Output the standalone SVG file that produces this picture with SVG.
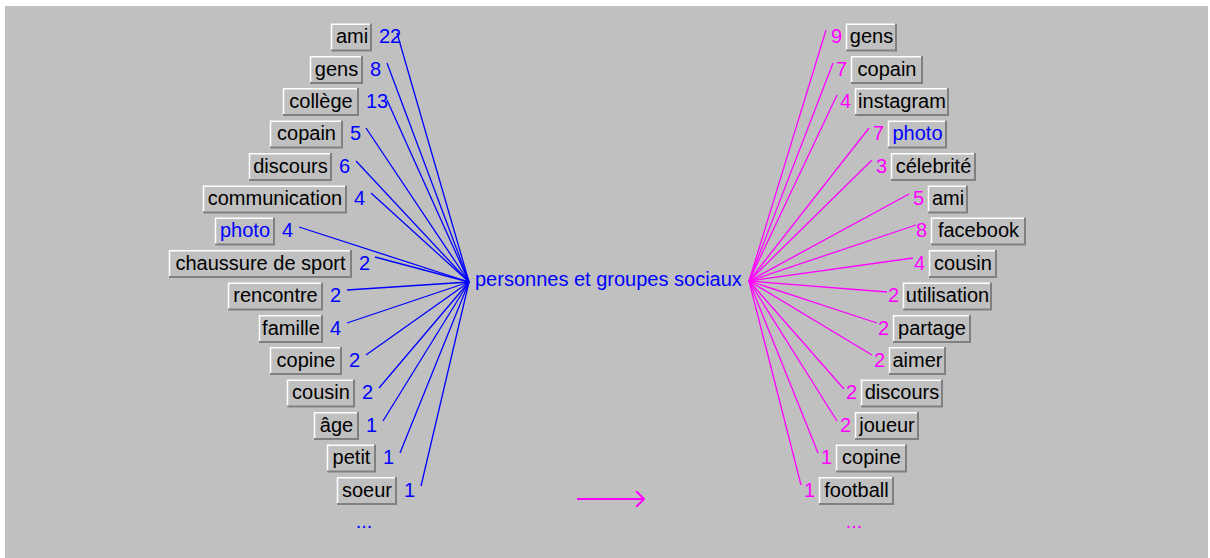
<svg xmlns="http://www.w3.org/2000/svg" width="1210" height="558" viewBox="0 0 1210 558">
<style>
.bg{fill:#c0c0c0}
.box{fill:#c0c0c0}
.hl{fill:none;stroke:#ffffff;stroke-width:1.5}
.sh{fill:none;stroke:#808080;stroke-width:2}
text{font-family:"Liberation Sans",Arial,sans-serif;font-size:20px}
.lbl{fill:#000;text-anchor:middle}
.lblb{fill:#0000ff;text-anchor:middle}
.nl{fill:#0000ff}
.nr{fill:#ff00ff;text-anchor:end}
.cl{stroke:#0000ff;stroke-width:1.3;fill:none}
.cr{stroke:#ff00ff;stroke-width:1.3;fill:none}
</style>
<defs>
<marker id="ah" viewBox="0 0 10 16" refX="9" refY="8" markerWidth="10" markerHeight="16" markerUnits="userSpaceOnUse" orient="auto">
<path d="M1 0 L9 8 L1 16" fill="none" stroke="#ff00ff" stroke-width="2"/>
</marker>
</defs>
<rect width="1210" height="558" fill="#ffffff"/>
<rect class="bg" x="5" y="6" width="1203" height="552"/>

<g id="connectors">
<path class="cl" d="M397 33 L469 282"/>
<path class="cl" d="M387 63 L469 282"/>
<path class="cl" d="M387 100 L469 282"/>
<path class="cl" d="M366 128 L469 282"/>
<path class="cl" d="M356 161 L469 282"/>
<path class="cl" d="M371 193 L469 282"/>
<path class="cl" d="M299 227 L469 282"/>
<path class="cl" d="M375 257 L469 282"/>
<path class="cl" d="M347 290 L469 282"/>
<path class="cl" d="M347 323 L469 282"/>
<path class="cl" d="M366 355 L469 282"/>
<path class="cl" d="M379 388 L469 282"/>
<path class="cl" d="M383 421 L469 282"/>
<path class="cl" d="M400 453 L469 282"/>
<path class="cl" d="M421 486 L469 282"/>
<path class="cr" d="M749 281 L826 30"/>
<path class="cr" d="M749 281 L833 63"/>
<path class="cr" d="M749 281 L837 95"/>
<path class="cr" d="M749 281 L869 128"/>
<path class="cr" d="M749 281 L872 160"/>
<path class="cr" d="M749 281 L909 194"/>
<path class="cr" d="M749 281 L916 225"/>
<path class="cr" d="M749 281 L913 258"/>
<path class="cr" d="M749 281 L887 292"/>
<path class="cr" d="M749 281 L877 323"/>
<path class="cr" d="M749 281 L872 355"/>
<path class="cr" d="M749 281 L844 389"/>
<path class="cr" d="M749 281 L837 421"/>
<path class="cr" d="M749 281 L818 453"/>
<path class="cr" d="M749 281 L801 485"/>
<path d="M577 499 L644 499" stroke="#ff00ff" stroke-width="2" fill="none" marker-end="url(#ah)"/>
</g>

<g id="center"><text x="475" y="286" fill="#0000ff">personnes et groupes sociaux</text></g>

<g id="l-ami"><rect class="box" x="331" y="23.5" width="41" height="28"/><path class="hl" d="M331.5 51.5V24.25H372"/><path class="sh" d="M331 50.5H371V23.5"/><text class="lbl" x="352" y="43">ami</text><text class="nl" x="379" y="43">22</text></g>
<g id="l-gens"><rect class="box" x="310" y="56" width="53" height="28"/><path class="hl" d="M310.5 84V56.75H363"/><path class="sh" d="M310 83H362V56"/><text class="lbl" x="336.5" y="75.5">gens</text><text class="nl" x="370" y="75.5">8</text></g>
<g id="l-college"><rect class="box" x="283" y="88" width="76" height="28"/><path class="hl" d="M283.5 116V88.75H359"/><path class="sh" d="M283 115H358V88"/><text class="lbl" x="321" y="107.5">collège</text><text class="nl" x="366" y="107.5">13</text></g>
<g id="l-copain"><rect class="box" x="270" y="120.5" width="73" height="28"/><path class="hl" d="M270.5 148.5V121.25H343"/><path class="sh" d="M270 147.5H342V120.5"/><text class="lbl" x="306.5" y="140">copain</text><text class="nl" x="350" y="140">5</text></g>
<g id="l-discours"><rect class="box" x="249" y="153" width="83" height="28"/><path class="hl" d="M249.5 181V153.75H332"/><path class="sh" d="M249 180H331V153"/><text class="lbl" x="290.5" y="172.5">discours</text><text class="nl" x="339" y="172.5">6</text></g>
<g id="l-communication"><rect class="box" x="203" y="185.5" width="144" height="28"/><path class="hl" d="M203.5 213.5V186.25H347"/><path class="sh" d="M203 212.5H346V185.5"/><text class="lbl" x="275" y="205">communication</text><text class="nl" x="354" y="205">4</text></g>
<g id="l-photo"><rect class="box" x="215" y="217.5" width="60" height="28"/><path class="hl" d="M215.5 245.5V218.25H275"/><path class="sh" d="M215 244.5H274V217.5"/><text class="lblb" x="245" y="237">photo</text><text class="nl" x="282" y="237">4</text></g>
<g id="l-chaussure"><rect class="box" x="169" y="250" width="183" height="28"/><path class="hl" d="M169.5 278V250.75H352"/><path class="sh" d="M169 277H351V250"/><text class="lbl" x="260.5" y="269.5">chaussure de sport</text><text class="nl" x="359" y="269.5">2</text></g>
<g id="l-rencontre"><rect class="box" x="228" y="282.5" width="95" height="28"/><path class="hl" d="M228.5 310.5V283.25H323"/><path class="sh" d="M228 309.5H322V282.5"/><text class="lbl" x="275.5" y="302">rencontre</text><text class="nl" x="330" y="302">2</text></g>
<g id="l-famille"><rect class="box" x="259" y="315" width="64" height="28"/><path class="hl" d="M259.5 343V315.75H323"/><path class="sh" d="M259 342H322V315"/><text class="lbl" x="291" y="334.5">famille</text><text class="nl" x="330" y="334.5">4</text></g>
<g id="l-copine"><rect class="box" x="270" y="347" width="72" height="28"/><path class="hl" d="M270.5 375V347.75H342"/><path class="sh" d="M270 374H341V347"/><text class="lbl" x="306" y="366.5">copine</text><text class="nl" x="349" y="366.5">2</text></g>
<g id="l-cousin"><rect class="box" x="287" y="379.5" width="68" height="28"/><path class="hl" d="M287.5 407.5V380.25H355"/><path class="sh" d="M287 406.5H354V379.5"/><text class="lbl" x="321" y="399">cousin</text><text class="nl" x="362" y="399">2</text></g>
<g id="l-age"><rect class="box" x="314" y="412" width="45" height="28"/><path class="hl" d="M314.5 440V412.75H359"/><path class="sh" d="M314 439H358V412"/><text class="lbl" x="336.5" y="431.5">âge</text><text class="nl" x="366" y="431.5">1</text></g>
<g id="l-petit"><rect class="box" x="327" y="444.5" width="49" height="28"/><path class="hl" d="M327.5 472.5V445.25H376"/><path class="sh" d="M327 471.5H375V444.5"/><text class="lbl" x="351.5" y="464">petit</text><text class="nl" x="383" y="464">1</text></g>
<g id="l-soeur"><rect class="box" x="337" y="477" width="60" height="28"/><path class="hl" d="M337.5 505V477.75H397"/><path class="sh" d="M337 504H396V477"/><text class="lbl" x="367" y="496.5">soeur</text><text class="nl" x="404" y="496.5">1</text></g>
<g id="l-more"><text x="364" y="528" fill="#0000ff" text-anchor="middle">...</text></g>

<g id="r-gens"><rect class="box" x="846" y="23.5" width="51" height="28"/><path class="hl" d="M846.5 51.5V24.25H897"/><path class="sh" d="M846 50.5H896V23.5"/><text class="lbl" x="871.5" y="43">gens</text><text class="nr" x="842" y="43">9</text></g>
<g id="r-copain"><rect class="box" x="851" y="56" width="72" height="28"/><path class="hl" d="M851.5 84V56.75H923"/><path class="sh" d="M851 83H922V56"/><text class="lbl" x="887" y="75.5">copain</text><text class="nr" x="847" y="75.5">7</text></g>
<g id="r-instagram"><rect class="box" x="855" y="88" width="94" height="28"/><path class="hl" d="M855.5 116V88.75H949"/><path class="sh" d="M855 115H948V88"/><text class="lbl" x="902" y="107.5">instagram</text><text class="nr" x="851" y="107.5">4</text></g>
<g id="r-photo"><rect class="box" x="888" y="120.5" width="59" height="28"/><path class="hl" d="M888.5 148.5V121.25H947"/><path class="sh" d="M888 147.5H946V120.5"/><text class="lblb" x="917.5" y="140">photo</text><text class="nr" x="884" y="140">7</text></g>
<g id="r-celebrite"><rect class="box" x="891" y="153" width="85" height="28"/><path class="hl" d="M891.5 181V153.75H976"/><path class="sh" d="M891 180H975V153"/><text class="lbl" x="933.5" y="172.5">célebrité</text><text class="nr" x="887" y="172.5">3</text></g>
<g id="r-ami"><rect class="box" x="928" y="185.5" width="40" height="28"/><path class="hl" d="M928.5 213.5V186.25H968"/><path class="sh" d="M928 212.5H967V185.5"/><text class="lbl" x="948" y="205">ami</text><text class="nr" x="924" y="205">5</text></g>
<g id="r-facebook"><rect class="box" x="931" y="217.5" width="95" height="28"/><path class="hl" d="M931.5 245.5V218.25H1026"/><path class="sh" d="M931 244.5H1025V217.5"/><text class="lbl" x="978.5" y="237">facebook</text><text class="nr" x="927" y="237">8</text></g>
<g id="r-cousin"><rect class="box" x="929" y="250" width="68" height="28"/><path class="hl" d="M929.5 278V250.75H997"/><path class="sh" d="M929 277H996V250"/><text class="lbl" x="963" y="269.5">cousin</text><text class="nr" x="925" y="269.5">4</text></g>
<g id="r-utilisation"><rect class="box" x="903" y="282.5" width="89" height="28"/><path class="hl" d="M903.5 310.5V283.25H992"/><path class="sh" d="M903 309.5H991V282.5"/><text class="lbl" x="947.5" y="302">utilisation</text><text class="nr" x="899" y="302">2</text></g>
<g id="r-partage"><rect class="box" x="893" y="315" width="78" height="28"/><path class="hl" d="M893.5 343V315.75H971"/><path class="sh" d="M893 342H970V315"/><text class="lbl" x="932" y="334.5">partage</text><text class="nr" x="889" y="334.5">2</text></g>
<g id="r-aimer"><rect class="box" x="889" y="347" width="57" height="28"/><path class="hl" d="M889.5 375V347.75H946"/><path class="sh" d="M889 374H945V347"/><text class="lbl" x="917.5" y="366.5">aimer</text><text class="nr" x="885" y="366.5">2</text></g>
<g id="r-discours"><rect class="box" x="861" y="379.5" width="82" height="28"/><path class="hl" d="M861.5 407.5V380.25H943"/><path class="sh" d="M861 406.5H942V379.5"/><text class="lbl" x="902" y="399">discours</text><text class="nr" x="857" y="399">2</text></g>
<g id="r-joueur"><rect class="box" x="855" y="412" width="64" height="28"/><path class="hl" d="M855.5 440V412.75H919"/><path class="sh" d="M855 439H918V412"/><text class="lbl" x="887" y="431.5">joueur</text><text class="nr" x="851" y="431.5">2</text></g>
<g id="r-copine"><rect class="box" x="836" y="444.5" width="71" height="28"/><path class="hl" d="M836.5 472.5V445.25H907"/><path class="sh" d="M836 471.5H906V444.5"/><text class="lbl" x="871.5" y="464">copine</text><text class="nr" x="832" y="464">1</text></g>
<g id="r-football"><rect class="box" x="819" y="477" width="75" height="28"/><path class="hl" d="M819.5 505V477.75H894"/><path class="sh" d="M819 504H893V477"/><text class="lbl" x="856.5" y="496.5">football</text><text class="nr" x="815" y="496.5">1</text></g>
<g id="r-more"><text x="854" y="528" fill="#ff00ff" text-anchor="middle">...</text></g>
</svg>
